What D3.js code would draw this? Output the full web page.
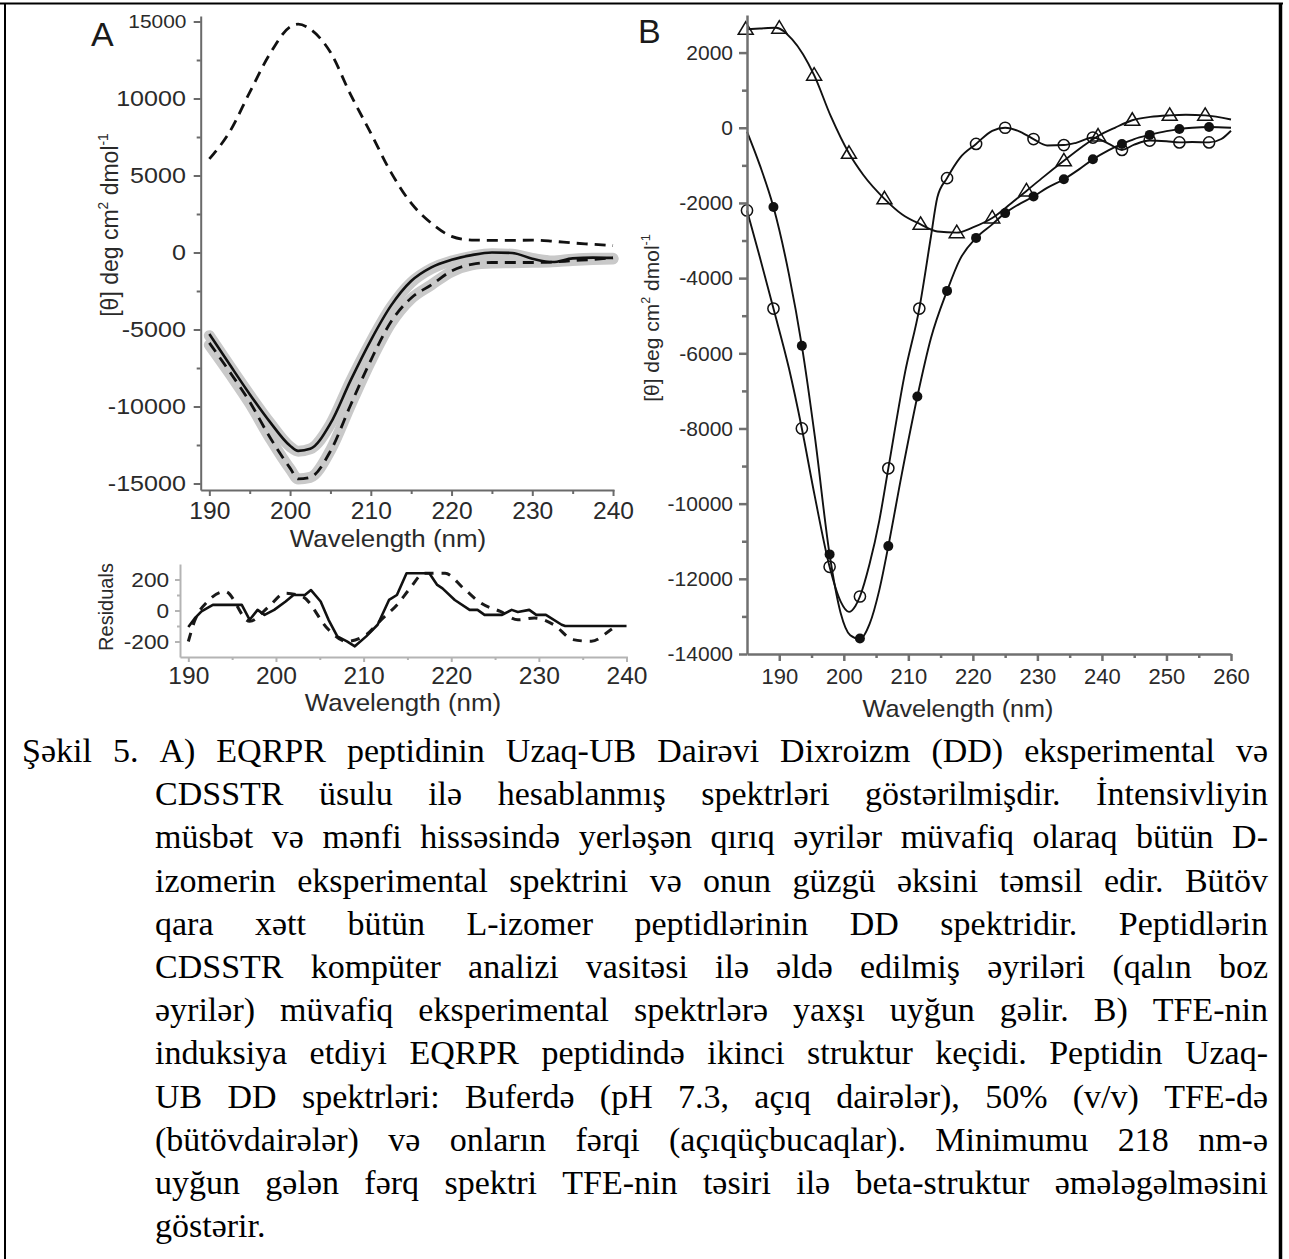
<!DOCTYPE html>
<html><head><meta charset="utf-8">
<script src="https://cdn.jsdelivr.net/npm/d3@7"></script>
<style>
html,body{margin:0;padding:0;background:#fff;}
svg{display:block;}
</style></head><body>
<svg id="fig" width="1289" height="1259"></svg>
<script>
// ================= DATA =================
// Panel A : wavelengths (nm) and mean residue ellipticity
const waveA      = [190,192.5,195,197.5,200,201,202.5,205,207.5,210,212.5,215,217.5,220,222.5,225,227.5,230,232.5,235,237.5,240];
const dIsomerPos = [6080,7820,10400,12900,14650,14830,14500,13000,10250,7750,5200,3200,1900,1050,810,790,790,800,730,620,530,440];
const dIsomerNeg = [-5870,-7730,-9700,-12000,-14000,-14700,-14600,-12900,-9900,-7000,-4500,-2950,-2100,-1200,-770,-650,-650,-650,-620,-530,-450,-350];
const lIsomer    = [-5290,-7260,-9200,-11000,-12550,-12880,-12750,-11100,-8300,-5700,-3450,-1850,-960,-470,-170,0,-30,-400,-620,-380,-330,-350];
const fitL       = [-5400,-7350,-9250,-11050,-12600,-12900,-12750,-11150,-8350,-5800,-3550,-1950,-1050,-560,-250,-80,-120,-380,-550,-430,-380,-380];
const fitD       = [-6000,-7850,-9800,-12050,-14050,-14700,-14600,-12850,-9900,-7050,-4600,-3000,-2100,-1250,-800,-680,-660,-640,-600,-520,-460,-420];

// Residuals panel
const residSolidX = [190,190.7,191.5,192.8,195.7,196.1,197,197.9,198.7,199.8,201.1,202,203.3,204,205.1,206,207,208.1,209,210.3,211.6,212.9,213.8,214.9,217.5,218.4,219,220.4,222.1,223,223.8,225.8,226.9,227.6,228.9,229.7,230.8,232.6,233,240];
const residSolidY = [-107,-53,-6,36,36,36,-60,4,-28,4,58,100,100,132,58,-60,-167,-199,-231,-167,-92,68,100,240,240,165,143,68,4,4,-28,-28,4,-10,4,-28,-28,-92,-100,-100];
const residDashX  = [190,190.7,192.2,194.2,197,199.2,201,203,206,208,210.3,212,213.8,215.3,216.9,219.3,221.4,223.4,225.6,227.6,229.5,231.7,233.9,236,238.2,239];
const residDashY  = [-200,-70,58,122,-70,26,111,90,-124,-199,-156,-60,36,143,240,240,143,47,-6,-60,-49,-92,-188,-199,-124,-92];

// Panel B : buffer (open circles), 50% TFE (filled circles), difference (open triangles)
const bufferX      = [185,189.1,193.5,197.8,202.5,206.9,211.7,216,220.5,225,229.4,234.1,238.6,243.1,247.4,252,256.6];
const bufferY      = [-2200,-4810,-8000,-11680,-12470,-9060,-4810,-1340,-430,0,-300,-460,-260,-590,-340,-390,-390];
const bufferCurveX = [185,187,189.1,191.5,193.5,195.5,197.8,199.5,200.8,201.8,202.5,204,205.5,206.9,209.5,211.7,213.5,214.5,216,218,220.5,223,225,227,229.4,231.5,234.1,236,238.6,241,243.1,245,247.4,250,252,254,256.6,258.5,260];
const bufferCurveY = [-2200,-3450,-4810,-6400,-8000,-9800,-11680,-12600,-12880,-12720,-12470,-11600,-10450,-9060,-6500,-4810,-2900,-1850,-1340,-800,-430,-80,0,-80,-300,-470,-460,-400,-260,-420,-590,-450,-340,-360,-390,-380,-390,-300,-80];
const tfeX         = [189.1,193.5,197.8,202.5,206.9,211.4,216,220.5,225,229.4,234.1,238.6,243.1,247.4,252,256.6];
const tfeY         = [-2110,-5800,-11350,-13590,-11130,-7150,-4340,-2930,-2270,-1830,-1370,-840,-430,-190,-35,20];
const tfeCurveX    = [185,187,189.1,191.5,193.5,195.5,197.8,199.5,201,202.5,204,205.5,206.9,209,211.4,213.5,216,218,220.5,223,225,227,229.4,231.5,234.1,236.5,238.6,241,243.1,245,247.4,250,252,254,256.6,260];
const tfeCurveY    = [-100,-1000,-2110,-3900,-5800,-8200,-11350,-12900,-13500,-13600,-13200,-12300,-11130,-9200,-7150,-5600,-4340,-3500,-2930,-2570,-2270,-2050,-1830,-1600,-1370,-1100,-840,-600,-430,-300,-190,-90,-35,0,20,0];
const diffX        = [184.8,190,195.4,200.8,206.3,211.9,217.5,223,228.3,234.1,239.4,244.7,250.5,256];
const diffY        = [2620,2650,1400,-680,-1890,-2570,-2790,-2400,-1680,-880,-220,200,330,330];
const diffCurveX   = [185,187,189.5,192,195.4,198,200.8,203,206.3,209,211.9,214.5,217.5,220,223,226,228.3,231,234.1,237,239.4,242,244.7,247.5,250.5,253,256,260];
const diffCurveY   = [2620,2640,2660,2350,1400,300,-680,-1250,-1890,-2300,-2570,-2760,-2790,-2650,-2400,-2000,-1680,-1300,-880,-500,-220,0,200,290,330,345,330,220];

// Tick values
const ticksAX  = [190,200,210,220,230,240];
const minorAX  = [195,205,215,225,235];
const ticksAY  = [-15000,-10000,-5000,0,5000,10000,15000];
const minorAY  = [-12500,-7500,-2500,2500,7500,12500];
const ticksRY  = [-200,0,200];
const minorRY  = [-100,100];
const ticksBX  = [190,200,210,220,230,240,250,260];
const minorBX  = [195,205,215,225,235,245,255];
const ticksBY  = [-14000,-12000,-10000,-8000,-6000,-4000,-2000,0,2000];
const minorBY  = [-13000,-11000,-9000,-7000,-5000,-3000,-1000,1000];

const captionLines = [
  "Şəkil 5. A) EQRPR peptidinin Uzaq-UB Dairəvi Dixroizm (DD) eksperimental və",
  "CDSSTR üsulu ilə hesablanmış spektrləri göstərilmişdir. İntensivliyin",
  "müsbət və mənfi hissəsində yerləşən qırıq əyrilər müvafiq olaraq bütün D-",
  "izomerin eksperimental spektrini və onun güzgü əksini təmsil edir. Bütöv",
  "qara xətt bütün L-izomer peptidlərinin DD spektridir. Peptidlərin",
  "CDSSTR kompüter analizi vasitəsi ilə əldə edilmiş əyriləri (qalın boz",
  "əyrilər) müvafiq eksperimental spektrlərə yaxşı uyğun gəlir. B) TFE-nin",
  "induksiya etdiyi EQRPR peptidində ikinci struktur keçidi. Peptidin Uzaq-",
  "UB DD spektrləri: Buferdə (pH 7.3, açıq dairələr), 50% (v/v) TFE-də",
  "(bütövdairələr) və onların fərqi (açıqüçbucaqlar). Minimumu 218 nm-ə",
  "uyğun gələn fərq spektri TFE-nin təsiri ilə beta-struktur əmələgəlməsini",
  "göstərir."
];

// ================= DRAWING =================
const svg = d3.select('#fig');
const SANS = "'Liberation Sans', Arial, sans-serif";
const SERIF = "'Liberation Serif', 'Times New Roman', serif";
const zip = (xs, ys) => xs.map((x, i) => [x, ys[i]]);
const fmt = d => String(d);   // plain hyphen-minus like the original

function styleAxis(g, color, width, fontSize, textColor, sx) {
  g.select('.domain').attr('stroke', color).attr('stroke-width', width);
  g.selectAll('.tick line').attr('stroke', color).attr('stroke-width', width);
  const t = g.selectAll('.tick text').attr('fill', textColor).style('font-family', SANS).style('font-size', fontSize + 'px');
  if (sx) t.attr('transform', `scale(${sx},1)`);
}
function minorAxis(g, axis, color, width) {
  g.call(axis);
  g.select('.domain').remove();
  g.selectAll('.tick line').attr('stroke', color).attr('stroke-width', width);
}

// ---------- Panel A ----------
const xA = d3.scaleLinear().domain([188.93, 240.12]).range([200.7, 614]);
const yA = d3.scaleLinear().domain([-15422, 15357]).range([490, 16]);
const axA = '#6a6a6a';

const lineA = d3.line().x(d => xA(d[0])).y(d => yA(d[1])).curve(d3.curveMonotoneX);
const gA = svg.append('g');
[fitD, fitL].forEach(arr => {
  gA.append('path').datum(zip(waveA, arr)).attr('d', lineA).attr('fill', 'none').attr('stroke', '#c9c9c9')
    .attr('stroke-width', 11).attr('stroke-linejoin', 'round').attr('stroke-linecap', 'round');
});
gA.append('path').datum(zip(waveA, dIsomerPos)).attr('d', lineA).attr('fill', 'none').attr('stroke', '#111').attr('stroke-width', 2.8).attr('stroke-dasharray', '11,7');
gA.append('path').datum(zip(waveA, dIsomerNeg)).attr('d', lineA).attr('fill', 'none').attr('stroke', '#111').attr('stroke-width', 2.8).attr('stroke-dasharray', '11,7');
gA.append('path').datum(zip(waveA, lIsomer)).attr('d', lineA).attr('fill', 'none').attr('stroke', '#111').attr('stroke-width', 2.6);

const gAx = svg.append('g').attr('transform', 'translate(0,490)')
  .call(d3.axisBottom(xA).tickValues(ticksAX).tickSize(6).tickSizeOuter(0).tickPadding(7));
styleAxis(gAx, axA, 2, 23, '#2a2a2a', 1.07);
minorAxis(svg.append('g').attr('transform', 'translate(0,490)'), d3.axisBottom(xA).tickValues(minorAX).tickSize(4).tickFormat(''), axA, 2);
const gAy = svg.append('g').attr('transform', 'translate(200.7,0)')
  .call(d3.axisLeft(yA).tickValues(ticksAY).tickSize(7).tickSizeOuter(0).tickPadding(6).tickFormat(fmt));
styleAxis(gAy, axA, 2, 22, '#2a2a2a', 1.14);
gAy.selectAll('.tick text').filter(d => d === 15000).style('font-size', '19px').attr('transform', 'scale(1.1,1)');
minorAxis(svg.append('g').attr('transform', 'translate(200.7,0)'), d3.axisLeft(yA).tickValues(minorAY).tickSize(4).tickFormat(''), axA, 2);

svg.append('text').attr('transform', 'translate(388,547) scale(1.08,1)').attr('text-anchor', 'middle')
  .style('font-family', SANS).style('font-size', '24px').attr('fill', '#2a2a2a').text('Wavelength (nm)');
svg.append('text').attr('x', 91).attr('y', 46).style('font-family', SANS).style('font-size', '34px').attr('fill', '#1a1a1a').text('A');

function yTitle(x, y, fs) {
  const t = svg.append('text').attr('transform', `translate(${x},${y}) rotate(-90)`).attr('text-anchor', 'middle')
    .style('font-family', SANS).style('font-size', fs + 'px').attr('fill', '#2a2a2a');
  t.append('tspan').text('[θ] deg cm');
  t.append('tspan').attr('dy', -fs * 0.45).style('font-size', (fs * 0.6) + 'px').text('2');
  t.append('tspan').attr('dy', fs * 0.45).text(' dmol');
  t.append('tspan').attr('dy', -fs * 0.45).style('font-size', (fs * 0.6) + 'px').text('-1');
  return t;
}
yTitle(118, 225, 23);

// ---------- Residuals ----------
const xR = d3.scaleLinear().domain([189.05, 240.1]).range([180, 627.4]);
const yR = d3.scaleLinear().domain([-300, 300]).range([657, 564]);
const axR = '#b4b4b4';
svg.append('path').datum(zip(residDashX, residDashY))
  .attr('d', d3.line().x(d => xR(d[0])).y(d => yR(d[1])).curve(d3.curveMonotoneX)).attr('fill', 'none')
  .attr('stroke', '#1a1a1a').attr('stroke-width', 3).attr('stroke-dasharray', '9,8');
svg.append('path').datum(zip(residSolidX, residSolidY))
  .attr('d', d3.line().x(d => xR(d[0])).y(d => yR(d[1]))).attr('fill', 'none')
  .attr('stroke', '#111').attr('stroke-width', 2.6).attr('stroke-linejoin', 'round');
const gRx = svg.append('g').attr('transform', 'translate(0,657)')
  .call(d3.axisBottom(xR).tickValues(ticksAX).tickSize(5).tickSizeOuter(0).tickPadding(6));
styleAxis(gRx, axR, 2, 23, '#2a2a2a', 1.07);
minorAxis(svg.append('g').attr('transform', 'translate(0,657)'), d3.axisBottom(xR).tickValues(minorAX).tickSize(3).tickFormat(''), axR, 2);
const gRy = svg.append('g').attr('transform', 'translate(180,0)')
  .call(d3.axisLeft(yR).tickValues(ticksRY).tickSize(5).tickSizeOuter(0).tickPadding(5).tickFormat(fmt));
styleAxis(gRy, axR, 2, 21, '#2a2a2a', 1.08);
minorAxis(svg.append('g').attr('transform', 'translate(180,0)'), d3.axisLeft(yR).tickValues(minorRY).tickSize(3).tickFormat(''), axR, 2);
svg.append('text').attr('transform', 'translate(403,711) scale(1.08,1)').attr('text-anchor', 'middle')
  .style('font-family', SANS).style('font-size', '24px').attr('fill', '#2a2a2a').text('Wavelength (nm)');
svg.append('text').attr('transform', 'translate(113,607) rotate(-90)').attr('text-anchor', 'middle')
  .style('font-family', SANS).style('font-size', '20px').attr('fill', '#2a2a2a').text('Residuals');

// ---------- Panel B ----------
const xB = d3.scaleLinear().domain([185, 260]).range([747, 1231]);
const yB = d3.scaleLinear().domain([-14000, 3000]).range([654, 15]);
const axB = '#707070';
const lineB = d3.line().x(d => xB(d[0])).y(d => yB(d[1])).curve(d3.curveMonotoneX);
const gB = svg.append('g');
[[diffCurveX, diffCurveY], [bufferCurveX, bufferCurveY], [tfeCurveX, tfeCurveY]].forEach(([xs, ys]) => {
  gB.append('path').datum(zip(xs, ys)).attr('d', lineB).attr('fill', 'none').attr('stroke', '#111').attr('stroke-width', 1.9);
});
gB.selectAll('circle.tfe').data(zip(tfeX, tfeY)).join('circle').attr('class', 'tfe')
  .attr('cx', d => xB(d[0])).attr('cy', d => yB(d[1])).attr('r', 5).attr('fill', '#111');
gB.selectAll('circle.buf').data(zip(bufferX, bufferY)).join('circle').attr('class', 'buf')
  .attr('cx', d => xB(d[0])).attr('cy', d => yB(d[1])).attr('r', 5.6).attr('fill', 'none').attr('stroke', '#111').attr('stroke-width', 1.5);
gB.selectAll('path.tri').data(zip(diffX, diffY)).join('path').attr('class', 'tri')
  .attr('transform', d => `translate(${xB(d[0])},${yB(d[1])})`)
  .attr('d', 'M0,-7.5L7.5,5L-7.5,5Z').attr('fill', 'none').attr('stroke', '#111').attr('stroke-width', 1.5);

const gBx = svg.append('g').attr('transform', 'translate(0,654)')
  .call(d3.axisBottom(xB).tickValues(ticksBX).tickSize(7).tickSizeOuter(0).tickPadding(7));
styleAxis(gBx, axB, 2.5, 22, '#2a2a2a');
minorAxis(svg.append('g').attr('transform', 'translate(0,654)'), d3.axisBottom(xB).tickValues(minorBX).tickSize(4).tickFormat(''), axB, 2.5);
const gBy = svg.append('g').attr('transform', 'translate(747,0)')
  .call(d3.axisLeft(yB).tickValues(ticksBY).tickSize(8).tickSizeOuter(0).tickPadding(6).tickFormat(fmt));
styleAxis(gBy, axB, 2.5, 21, '#2a2a2a');
minorAxis(svg.append('g').attr('transform', 'translate(747,0)'), d3.axisLeft(yB).tickValues(minorBY).tickSize(5).tickFormat(''), axB, 2.5);
svg.append('text').attr('transform', 'translate(958,717) scale(1.05,1)').attr('text-anchor', 'middle')
  .style('font-family', SANS).style('font-size', '24px').attr('fill', '#2a2a2a').text('Wavelength (nm)');
svg.append('text').attr('x', 638).attr('y', 43).style('font-family', SANS).style('font-size', '34px').attr('fill', '#1a1a1a').text('B');
yTitle(659, 318, 21);

// ---------- Caption (justified, hanging indent) ----------
const lineH = 43.2, y0 = 762, leftFirst = 22, leftRest = 155, right = 1268, baseFs = 28;
const cap = svg.append('g').style('font-family', SERIF).style('font-size', baseFs + 'px').attr('fill', '#000');
// measure at base size to find the size that makes the tightest line fit with normal spaces
const probe = cap.append('text').text('a b');
const spaceW = probe.node().getComputedTextLength() - cap.append('text').text('ab').node().getComputedTextLength();
cap.selectAll('text').remove();
let scale = 10;
captionLines.forEach((line, i) => {
  if (i === captionLines.length - 1) return;
  const words = line.split(' ');
  const w = d3.sum(words, wd => { const t = cap.append('text').text(wd); const l = t.node().getComputedTextLength(); t.remove(); return l; })
            + (words.length - 1) * spaceW;
  const avail = right - (i === 0 ? leftFirst : leftRest);
  scale = Math.min(scale, avail / w);
});
const fs = Math.max(24, Math.min(34, baseFs * scale * 0.995));
cap.style('font-size', fs + 'px');
captionLines.forEach((line, i) => {
  const words = line.split(' ');
  const y = y0 + i * lineH;
  const x0 = i === 0 ? leftFirst : leftRest;
  const nodes = words.map(w => cap.append('text').attr('y', y).text(w));
  const widths = nodes.map(n => n.node().getComputedTextLength());
  const total = d3.sum(widths);
  const justify = i < captionLines.length - 1 && words.length > 1;
  let gap = justify ? (right - x0 - total) / (words.length - 1) : spaceW * fs / baseFs;
  if (gap < 2) gap = 2;
  let x = x0;
  nodes.forEach((n, k) => { n.attr('x', x); x += widths[k] + gap; });
});

// ---------- Frame ----------
svg.append('line').attr('x1', 0).attr('x2', 1283).attr('y1', 3.5).attr('y2', 3.5).attr('stroke', '#000').attr('stroke-width', 2);
svg.append('line').attr('x1', 5).attr('x2', 5).attr('y1', 3).attr('y2', 1259).attr('stroke', '#000').attr('stroke-width', 2);
svg.append('line').attr('x1', 1280.5).attr('x2', 1280.5).attr('y1', 3).attr('y2', 1259).attr('stroke', '#000').attr('stroke-width', 3.5);
</script>
</body></html>
